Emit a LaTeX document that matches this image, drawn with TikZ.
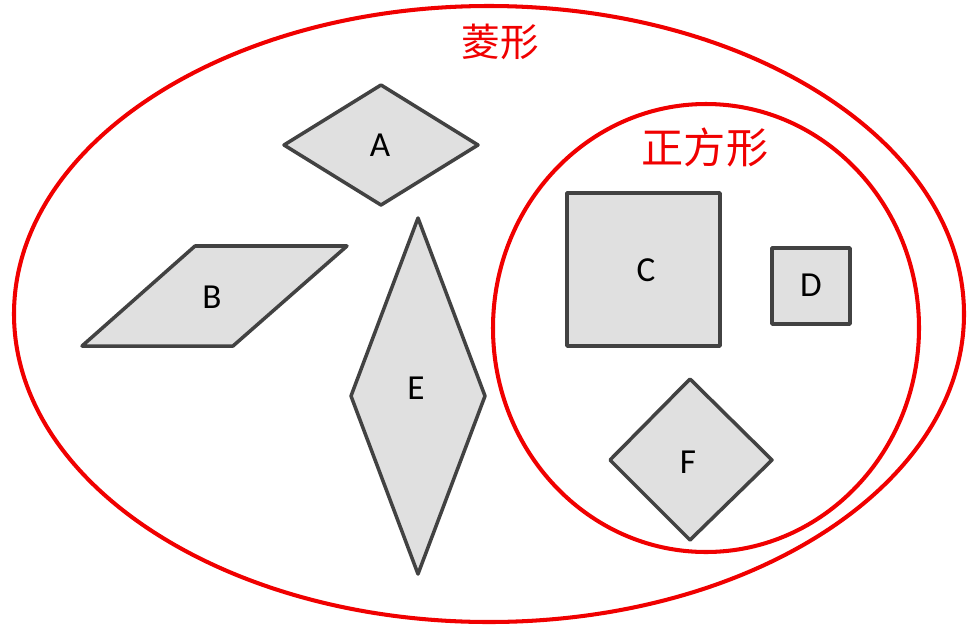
\documentclass[tikz,border=0pt]{standalone}
\usepackage{fontspec}
\setmainfont{Carlito}
\newfontfamily\cjk{Noto Sans CJK SC}
\definecolor{setred}{RGB}{240,0,0}
\definecolor{shapeline}{RGB}{66,66,66}
\definecolor{shapefill}{RGB}{224,224,224}
\begin{document}
\begin{tikzpicture}[x=0.02cm,y=-0.02cm]
\tikzset{
  setline/.style={draw=setred, line width=2.3pt},
  setlabel/.style={text=setred, font=\cjk\fontsize{22}{26}\selectfont},
  figure/.style={draw=shapeline, fill=shapefill, line width=2pt, line join=round},
  figlabel/.style={font=\fontsize{20}{24}\selectfont, inner sep=0pt}
}
\useasboundingbox (0,0) rectangle (967,626);
% sets
\draw[setline] (489,314) ellipse [x radius=475, y radius=308];
\draw[setline] (706,328) ellipse [x radius=213, y radius=224];
\node[setlabel] (rhombus) at (500,42) {菱形};
\node[setlabel, font=\cjk\fontsize{24}{28}\selectfont] (square) at (705,147) {正方形};
% rhombi
\draw[figure] (381,85) -- (478,145) -- (381,205) -- (284,145) -- cycle;
\draw[figure] (195,246) -- (347,246) -- (233,346) -- (82,346) -- cycle;
\draw[figure] (418,218) -- (485,396) -- (418,574) -- (351,396) -- cycle;
% squares
\draw[figure] (567,193) rectangle (720,346);
\draw[figure] (772,248) rectangle (850,324);
\draw[figure] (690,379) -- (772,460) -- (690,540) -- (610,460) -- cycle;
\node[figlabel] (a) at (380,145) {A};
\node[figlabel] (b) at (212,297) {B};
\node[figlabel] (e) at (416,388) {E};
\node[figlabel] (c) at (646,270) {C};
\node[figlabel] (d) at (811,285) {D};
\node[figlabel] (f) at (688,462) {F};
\end{tikzpicture}
\end{document}
